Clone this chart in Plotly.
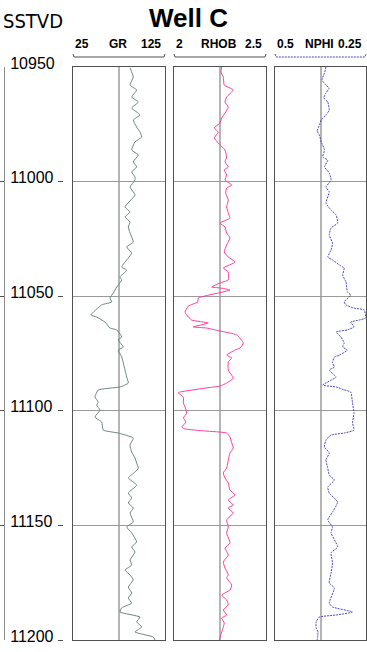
import plotly.graph_objects as go

W, H = 367, 652

# ---------------- data ----------------
gr_depth = [10950.4, 10954.4, 10957.9, 10960, 10963.1, 10965.3, 10967.9, 10970.9, 10973.1, 10976.2,
            10978.4, 10980.5, 10982.7, 10986.2, 10988.4, 10991.4, 10993.6, 10995.8, 10998, 10999.3,
            11002.4, 11005.8, 11011.1, 11013.3, 11015.4, 11017.6, 11019.8, 11022.4, 11026.4, 11028.5,
            11031.2, 11033.3, 11037.3, 11038.6, 11041.6, 11042.9, 11046, 11048.6, 11050.8, 11052.5,
            11053.8, 11058.2, 11059.1, 11061.3, 11063.9, 11064.7, 11067.8, 11069.1, 11072.2, 11073.5,
            11076.5, 11079.1, 11082.2, 11085.3, 11087.9, 11089.6, 11090.9, 11094, 11096.2, 11097.5,
            11099.7, 11102.7, 11104.9, 11108.4, 11109.7, 11111.9, 11114.9, 11118, 11120.6, 11122.8,
            11125, 11126.7, 11129.3, 11132.4, 11135.9, 11138, 11140.2, 11142.4, 11144.6, 11148.5,
            11150.7, 11153.3, 11157.2, 11159.4, 11161.6, 11165.1, 11167.3, 11169.5, 11171.6, 11173.8,
            11176.9, 11179.5, 11181.7, 11183.9, 11186, 11187.8, 11190, 11192.1, 11194.3, 11196.5,
            11198.7, 11200]
gr_value = [87.0, 90.5, 87.0, 94.2, 88.8, 96.0, 88.8, 97.8, 90.5, 94.2,
            97.8, 99.7, 92.4, 88.8, 96.0, 90.5, 94.2, 88.8, 92.4, 92.4,
            87.0, 92.4, 81.5, 87.0, 81.5, 87.0, 85.1, 87.0, 90.5, 83.4,
            88.8, 85.1, 77.9, 83.4, 76.1, 77.9, 72.5, 68.8, 65.2, 67.1,
            56.2, 44.5, 50.8, 59.8, 65.2, 72.5, 77.9, 74.2, 79.7, 74.2,
            77.9, 79.7, 81.5, 83.4, 85.1, 76.1, 52.5, 48.9, 52.5, 50.8,
            54.3, 48.9, 56.2, 57.9, 74.2, 90.5, 87.0, 88.8, 92.4, 94.2,
            96.0, 92.4, 85.1, 94.2, 85.1, 88.8, 85.1, 90.5, 87.0, 90.5,
            83.4, 88.8, 94.2, 88.8, 92.4, 87.0, 88.8, 81.5, 87.0, 90.5,
            85.1, 88.8, 85.1, 88.8, 77.9, 76.1, 97.8, 94.2, 99.7, 92.4,
            112.3, 114.1]

rhob_depth = [10950, 10952.2, 10954.4, 10957.9, 10960, 10963.1, 10965.3, 10967.5, 10970.1, 10972.3,
              10974.4, 10976.6, 10978.4, 10981, 10983.2, 10986.2, 10989.3, 10991.4, 10993.6, 10994.9,
              10997.1, 10999.3, 11001.5, 11002.8, 11005, 11008, 11011.1, 11014.6, 11015.9, 11018.1,
              11019.8, 11022.4, 11024.6, 11027.7, 11030.7, 11032.9, 11035.1, 11037.7, 11039.4, 11042.9,
              11044.2, 11046, 11046.4, 11047.3, 11048.6, 11050.8, 11052.5, 11054.3, 11056.9, 11058.2,
              11060.4, 11061.7, 11063.4, 11063.9, 11065.2, 11066.9, 11070.4, 11072.6, 11073.5, 11075.7,
              11077, 11078.7, 11082.2, 11085.7, 11087.9, 11089.2, 11090.1, 11091.8, 11092.2, 11094,
              11096.6, 11098.3, 11101, 11103.1, 11104.9, 11107.1, 11107.9, 11108.8, 11109.7, 11111.4,
              11114, 11116.2, 11118.4, 11121.5, 11125, 11127.1, 11129.3, 11131.5, 11134.6, 11136.7,
              11138.9, 11141.1, 11142.4, 11144.6, 11147.6, 11150.7, 11153.3, 11157.7, 11159.9, 11162.9,
              11166, 11168.6, 11171.6, 11172.9, 11176, 11178.2, 11180.4, 11182.5, 11184.7, 11186.9,
              11189.1, 11190.4, 11192.6, 11195.6, 11198.7, 11200]
rhob_value = [2.259, 2.255, 2.268, 2.273, 2.322, 2.286, 2.277, 2.295, 2.277, 2.259,
              2.250, 2.219, 2.241, 2.219, 2.241, 2.277, 2.286, 2.277, 2.295, 2.273,
              2.286, 2.277, 2.314, 2.286, 2.281, 2.295, 2.286, 2.299, 2.304, 2.250,
              2.277, 2.286, 2.304, 2.286, 2.273, 2.295, 2.332, 2.268, 2.295, 2.295,
              2.250, 2.205, 2.250, 2.304, 2.241, 2.132, 2.129, 2.078, 2.060, 2.069,
              2.096, 2.186, 2.105, 2.178, 2.250, 2.341, 2.377, 2.359, 2.332, 2.286,
              2.314, 2.295, 2.295, 2.322, 2.286, 2.250, 2.168, 2.033, 2.023, 2.051,
              2.051, 2.060, 2.069, 2.051, 2.065, 2.042, 2.060, 2.168, 2.286, 2.304,
              2.314, 2.322, 2.304, 2.295, 2.286, 2.268, 2.277, 2.295, 2.304, 2.332,
              2.295, 2.322, 2.295, 2.322, 2.286, 2.295, 2.286, 2.304, 2.277, 2.295,
              2.268, 2.277, 2.295, 2.286, 2.314, 2.304, 2.259, 2.286, 2.295, 2.268,
              2.286, 2.259, 2.273, 2.263, 2.250, 2.246]

nphi_depth = [10950, 10952.6, 10955.7, 10957.9, 10959.2, 10961.3, 10963.5, 10965.3, 10968.8, 10970.9,
              10973.1, 10975.3, 10977.9, 10979.7, 10982.7, 10986.2, 10989.3, 10990.6, 10993.6, 10996.2,
              10999.3, 11002.4, 11004.5, 11009.3, 11012.4, 11014.6, 11018.1, 11020.2, 11023.3, 11026.8,
              11029.8, 11032.9, 11034.2, 11036.4, 11037.7, 11040.8, 11043.8, 11048.2, 11049.5, 11052.5,
              11053.8, 11055.2, 11056, 11059.5, 11060.4, 11061.3, 11063.4, 11064.7, 11065.6, 11067.8,
              11070.4, 11072.2, 11073.5, 11075.7, 11076.6, 11079.1, 11080.9, 11082.2, 11085.3, 11086.6,
              11088.8, 11089.6, 11090.9, 11091.8, 11096.6, 11101, 11105.3, 11108.4, 11109.7, 11110.6,
              11112.7, 11115.8, 11118.4, 11121.5, 11125, 11128, 11130.2, 11133.3, 11135.9, 11139.8,
              11144.2, 11147.6, 11150.7, 11153.3, 11159.4, 11162, 11166.4, 11170.8, 11175.1, 11177.3,
              11183.9, 11185.6, 11187.8, 11189.1, 11190, 11192.1, 11194.7, 11196.5, 11200]
nphi_value = [0.360, 0.364, 0.371, 0.360, 0.351, 0.360, 0.366, 0.355, 0.351, 0.360,
              0.373, 0.378, 0.384, 0.378, 0.373, 0.364, 0.369, 0.355, 0.364, 0.351,
              0.346, 0.360, 0.351, 0.360, 0.346, 0.332, 0.328, 0.346, 0.351, 0.342,
              0.346, 0.355, 0.342, 0.323, 0.310, 0.314, 0.305, 0.301, 0.292, 0.310,
              0.305, 0.283, 0.255, 0.251, 0.269, 0.292, 0.283, 0.301, 0.332, 0.319,
              0.310, 0.314, 0.301, 0.323, 0.337, 0.342, 0.337, 0.351, 0.332, 0.346,
              0.369, 0.332, 0.310, 0.292, 0.287, 0.283, 0.287, 0.283, 0.310, 0.346,
              0.360, 0.364, 0.351, 0.360, 0.355, 0.351, 0.337, 0.355, 0.351, 0.328,
              0.342, 0.355, 0.342, 0.346, 0.328, 0.346, 0.342, 0.346, 0.351, 0.337,
              0.351, 0.342, 0.287, 0.332, 0.378, 0.387, 0.387, 0.382, 0.384]

depth_ticks = [10950, 11000, 11050, 11100, 11150, 11200]
grid_depths = [11000, 11050, 11100, 11150]
depth_range = [11200, 10950]

tracks = [
    # name, depth, values, range, colour, dash, left label, right label, centre
    ("GR", gr_depth, gr_value, [25, 125], "#6f8484", "solid", "25", "125", 75),
    ("RHOB", rhob_depth, rhob_value, [2, 2.5], "#ff3d9e", "solid", "2", "2.5", 2.25),
    ("NPHI", nphi_depth, nphi_value, [0.5, 0.25], "#4a46c6", "2px,1px", "0.5", "0.25", 0.375),
]

# ---------------- layout geometry (pixels) ----------------
track_px = [(73, 165), (174, 266), (275, 366)]
top_px, bot_px = 67, 640


def px(x):
    return x / W


def py(y):
    return 1 - y / H


fig = go.Figure()
layout = dict(
    width=W, height=H, margin=dict(l=0, r=0, t=0, b=0, autoexpand=False),
    paper_bgcolor="white", plot_bgcolor="white", showlegend=False,
)

label_font = dict(family="Liberation Sans, Arial", size=12, color="black", weight="bold")

shapes = []
annotations = []
for i, (name, dep, val, rng, col, dash, lo, hi, ctr) in enumerate(tracks):
    k = "" if i == 0 else str(i + 1)
    fig.add_trace(go.Scatter(
        x=val, y=dep, mode="lines", xaxis="x" + k, yaxis="y" + k,
        line=dict(color=col, width=1, dash=dash, shape="spline", smoothing=0.45),
        hoverinfo="skip",
    ))
    x0, x1 = track_px[i]
    layout["xaxis" + k] = dict(
        domain=[px(x0), px(x1)], range=rng, anchor="y" + k,
        showline=True, mirror=True, linecolor="#505050", linewidth=1,
        tickvals=[ctr], showticklabels=False, ticks="",
        showgrid=True, gridcolor="#b4b4b4", gridwidth=2, zeroline=False,
        automargin=False,
    )
    layout["yaxis" + k] = dict(
        domain=[py(bot_px), py(top_px)], range=depth_range, anchor="x" + k,
        showline=True, mirror=True, linecolor="#505050", linewidth=1,
        tickvals=grid_depths, showticklabels=False, ticks="",
        showgrid=True, gridcolor="#9a9a9a", gridwidth=1, zeroline=False,
        automargin=False,
    )
    # header labels
    yl = py(44)
    annotations += [
        dict(text=lo, x=px(x0), y=yl, xref="paper", yref="paper", xanchor="left",
             yanchor="middle", showarrow=False, font=label_font),
        dict(text=name, x=px((x0 + x1) / 2 - 1), y=yl, xref="paper", yref="paper",
             xanchor="center", yanchor="middle", showarrow=False, font=label_font),
        dict(text=hi, x=px(x1 - 2), y=yl, xref="paper", yref="paper", xanchor="right",
             yanchor="middle", showarrow=False, font=label_font),
    ]
    dotted = i == 2
    shapes.append(dict(
        type="path", xref="paper", yref="paper",
        path=f"M {px(x0)},{py(54)} L {px(x0 + 1)},{py(57)} L {px(x1 - 1)},{py(57)} L {px(x1)},{py(54)}",
        line=dict(color=col if dotted else "#505050", width=1, dash="2px,1px" if dotted else "solid"),
    ))

# depth axis (line on the far left with labels) - needs traces to be drawn
fig.add_trace(go.Scatter(x=[None], y=[None], xaxis="x", yaxis="y4", hoverinfo="skip",
                         mode="lines"))
fig.add_trace(go.Scatter(x=[None], y=[None], xaxis="x", yaxis="y5", hoverinfo="skip",
                         mode="lines"))
layout["yaxis4"] = dict(
    domain=[py(bot_px), py(top_px)], range=depth_range, anchor="free", overlaying="y",
    position=px(4), side="right", showline=True, linecolor="#8c8c8c", linewidth=1,
    tickvals=depth_ticks, ticktext=[str(d) for d in depth_ticks],
    ticks="inside", ticklen=4, tickcolor="#505050",
    ticklabelstandoff=2, ticklabelshift=4,
    tickfont=dict(family="Liberation Sans, Arial", size=16, color="black"),
    showgrid=False, zeroline=False, automargin=False,
)
layout["yaxis5"] = dict(
    domain=[py(bot_px), py(top_px)], range=depth_range, anchor="free", overlaying="y",
    position=px(63), side="left", showline=False,
    tickvals=grid_depths + [11200], showticklabels=False,
    ticks="outside", ticklen=5, tickcolor="#505050",
    showgrid=False, zeroline=False, automargin=False,
)

annotations += [
    dict(text="SSTVD", x=px(1), y=py(21), xref="paper", yref="paper", xanchor="left",
         yanchor="middle", showarrow=False,
         font=dict(family="DejaVu Sans Condensed, Liberation Sans, Arial", size=20, color="black")),
    dict(text="<b>Well C</b>", x=px(188), y=py(18), xref="paper", yref="paper",
         xanchor="center", yanchor="middle", showarrow=False,
         font=dict(family="Liberation Sans, Arial", size=26, color="black")),
]

layout["shapes"] = shapes
layout["annotations"] = annotations
fig.update_layout(**layout)
fig.write_html("out.html")
